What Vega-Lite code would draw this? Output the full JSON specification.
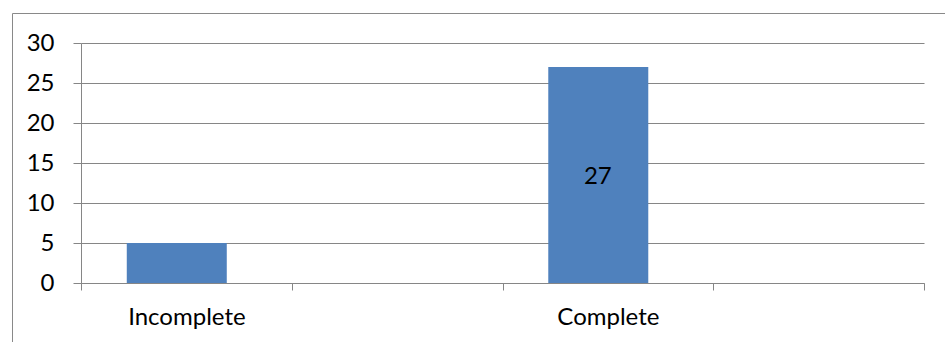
{
  "$schema": "https://vega.github.io/schema/vega-lite/v6.json",
  "autosize": "none",
  "padding": {"left": 12, "top": 13, "right": 0, "bottom": 0},
  "width": 933,
  "height": 329,
  "background": "white",
  "config": {
    "view": {"stroke": "#898989", "strokeWidth": 1, "strokeDash": [933, 1262, 329, 0]},
    "font": "Lato"
  },
  "data": {
    "values": [
      {"status": "Incomplete", "count": 5},
      {"status": "Complete", "count": 27}
    ]
  },
  "layer": [
    {
      "mark": {"type": "bar", "color": "#4F81BD", "width": 100, "xOffset": -9.6},
      "encoding": {
        "x": {
          "field": "status",
          "type": "nominal",
          "sort": null,
          "scale": {
            "domain": ["Incomplete", " ", "Complete", "  "],
            "range": [69, 912],
            "paddingInner": 0,
            "paddingOuter": 0
          },
          "axis": {
            "title": null,
            "orient": "bottom",
            "offset": -59,
            "tickBand": "extent",
            "labelAngle": 0,
            "grid": false,
            "domainColor": "#868686",
            "tickColor": "#868686",
            "tickSize": 7,
            "labelFont": "Lato",
            "labelFontSize": 24,
            "labelColor": "#000000",
            "labelPadding": 15
          }
        },
        "y": {
          "field": "count",
          "type": "quantitative",
          "scale": {"domain": [0, 30], "range": [270, 30], "nice": false},
          "axis": {
            "title": null,
            "orient": "left",
            "offset": -69,
            "values": [0, 5, 10, 15, 20, 25, 30],
            "grid": true,
            "gridColor": "#868686",
            "domainColor": "#868686",
            "tickColor": "#868686",
            "tickSize": 8,
            "labelFont": "Lato",
            "labelFontSize": 24,
            "labelColor": "#000000",
            "labelPadding": 19,
            "labelFlush": false
          }
        }
      }
    },
    {
      "transform": [
        {"filter": "datum.status == 'Complete'"},
        {"calculate": "datum.count / 2", "as": "mid"}
      ],
      "mark": {
        "type": "text",
        "font": "Lato",
        "fontSize": 24,
        "color": "#000000",
        "align": "center",
        "baseline": "middle",
        "xOffset": -10,
        "dy": 2
      },
      "encoding": {
        "x": {"field": "status", "type": "nominal", "sort": null},
        "y": {"field": "mid", "type": "quantitative"},
        "text": {"field": "count", "type": "quantitative"}
      }
    }
  ]
}
